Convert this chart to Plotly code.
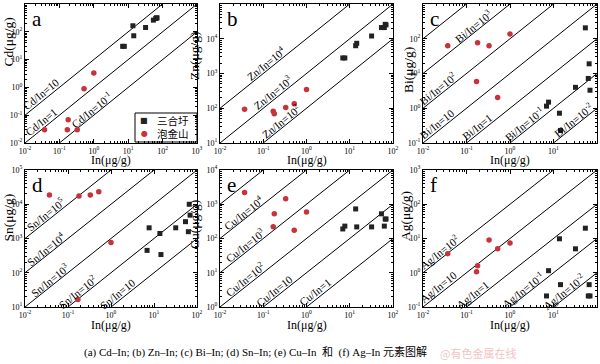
import math
import plotly.graph_objects as go

# ---------------- data ----------------
# In contents (µg/g)
sh_in = [6.9, 7.7, 13.7, 14.5, 32, 54, 63, 66, 69]      # 三合圩
pj_in = [0.037, 0.17, 0.18, 0.33, 0.52, 1.0]            # 泡金山

sh_cd = [30, 30, 165, 72, 143, 263, 300, 317, 317]
pj_cd = [0.03, 0.03, 0.068, 0.03, 0.89, 3.3]

sh_zn = [2800, 2800, 6300, 7400, 12000, 21000, 21000, 26000, 25000]
pj_zn = [93, 82, 70, 105, 135, 345]

sh_bi = [1.15, 1.5, 0.72, 0.23, 4.0, 206, 7.2, 19, 3.3]
pj_bi = [63, 5.9, 77, 63, 2.05, 138]

sh_sn = [450, 2050, 1400, 340, 2050, 3100, 1580, 10000, 4800]
pj_sn = [18600, 16.6, 17400, 18600, 23200, 760]

sh_cu = [190, 230, 730, 218, 218, 525, 230, 370, 370]
pj_cu = [2200, 220, 530, 1450, 173, 590]

sh_ag = [0.21, 1.15, 9.8, 0.45, 5.0, 20, 0.21, 0.45, 0.21]
pj_ag = [3.6, 1.07, 1.6, 9.1, 5.0, 7.4]

series_names = ["三合圩", "泡金山"]
caption = "(a) Cd–In; (b) Zn–In; (c) Bi–In; (d) Sn–In; (e) Cu–In  和  (f) Ag–In 元素图解"

# panels: element, x log range, y log range, ratio-line exponents,
# labelled lines (exponent, label-centre log x)
panels = [
    dict(letter="a", el="Cd", sh=sh_cd, pj=pj_cd, xr=(-2, 3), yr=(-2, 3),
         lines=[1, 0, -1], labels=[(1, -1.42), (0, -1.42), (-1, 0.03)]),
    dict(letter="b", el="Zn", sh=sh_zn, pj=pj_zn, xr=(-2, 2), yr=(1, 5),
         lines=[4, 3, 2], labels=[(4, -0.84), (3, -0.68), (2, -0.5)]),
    dict(letter="c", el="Bi", sh=sh_bi, pj=pj_bi, xr=(-2, 2), yr=(-1, 3),
         lines=[4, 3, 2, 1, 0, -1, -2],
         labels=[(3, -0.76), (2, -1.56), (1, -1.59), (0, -0.67), (-1, 0.41), (-2, 1.54)]),
    dict(letter="d", el="Sn", sh=sh_sn, pj=pj_sn, xr=(-2, 2), yr=(1, 5),
         lines=[5, 4, 3, 2, 1],
         labels=[(5, -1.43), (4, -1.43), (3, -1.34), (2, -0.70), (1, 0.24)]),
    dict(letter="e", el="Cu", sh=sh_cu, pj=pj_cu, xr=(-2, 2), yr=(0, 4),
         lines=[5, 4, 3, 2, 1, 0],
         labels=[(4, -1.38), (3, -1.33), (2, -1.33), (1, -0.66), (0, 0.29)]),
    dict(letter="f", el="Ag", sh=sh_ag, pj=pj_ag, xr=(-2, 2), yr=(-1, 3),
         lines=[2, 1, 0, -1, -2],
         labels=[(2, -1.54), (1, -1.56), (0, -0.78), (-1, 0.37), (-2, 1.31)]),
]

# layout geometry (pixels)
W, H = 600, 364
cols = [(25, 197), (220, 393), (423, 597)]
rows = [(4, 143), (170, 307)]
ytitle_pos = [(7.5, 42), (194, 56), (408, 70), (7.5, 218), (194, 224), (405, 216)]
xtitle_y = [160, 325]

SERIF = "Liberation Serif, Times New Roman, serif"
RED = "#c8323a"
BLACK = "#222222"


def exp_text(e):
    return "10<sup>%d</sup>" % e


def ratio_text(el, e):
    if e == 0:
        return "%s/In=1" % el
    if e == 1:
        return "%s/In=10" % el
    return "%s/In=10<sup>%d</sup>" % (el, e)


def px(x):
    return x / W


def py(y):
    return 1 - y / H


def paper_text(x, y, text, size, family=SERIF, color="black", angle=0,
               xanchor="center", yanchor="middle"):
    return dict(x=px(x), y=py(y), xref="paper", yref="paper", showarrow=False,
                text=text, textangle=angle, xanchor=xanchor, yanchor=yanchor,
                font=dict(family=family, size=size, color=color))


fig = go.Figure()
annotations = []
shapes = []
layout = {}

for i, p in enumerate(panels):
    n = i + 1
    r, c = divmod(i, 3)
    x0p, x1p = cols[c]
    y0p, y1p = rows[r]
    xs = "" if n == 1 else str(n)
    xref, yref = "x" + xs, "y" + xs

    # ratio lines
    lx = [10 ** (p["xr"][0] - 3), 10 ** (p["xr"][1] + 3)]
    for e in p["lines"]:
        fig.add_trace(go.Scatter(x=lx, y=[v * 10 ** e for v in lx], mode="lines",
                                 line=dict(color="black", width=1),
                                 showlegend=False, hoverinfo="skip",
                                 xaxis=xref, yaxis=yref))
    # points
    fig.add_trace(go.Scatter(x=sh_in, y=p["sh"], mode="markers", name=series_names[0],
                             marker=dict(symbol="square", size=5, color=BLACK),
                             showlegend=False, xaxis=xref, yaxis=yref))
    fig.add_trace(go.Scatter(x=pj_in, y=p["pj"], mode="markers", name=series_names[1],
                             marker=dict(symbol="circle", size=5.5, color=RED),
                             showlegend=False, xaxis=xref, yaxis=yref))

    tick_common = dict(type="log", showline=True, linecolor="black", linewidth=1,
                       mirror="ticks", ticks="inside", ticklen=4, tickcolor="black",
                       showgrid=False, zeroline=False, automargin=False,
                       tickfont=dict(family=SERIF, size=8, color="black"),
                       minor=dict(ticks="inside", ticklen=2, tickcolor="black",
                                  dtick="D1", showgrid=False))
    xv = list(range(p["xr"][0], p["xr"][1] + 1))
    yv = list(range(p["yr"][0], p["yr"][1] + 1))
    layout["xaxis" + xs] = dict(tick_common, range=list(p["xr"]),
                                domain=[px(x0p), px(x1p)], anchor=yref,
                                tickmode="array", tickvals=[10 ** v for v in xv],
                                ticktext=[exp_text(v) for v in xv])
    layout["yaxis" + xs] = dict(tick_common, range=list(p["yr"]),
                                domain=[py(y1p), py(y0p)], anchor=xref,
                                tickmode="array", tickvals=[10 ** v for v in yv],
                                ticktext=[exp_text(v) for v in yv])

    # line labels
    pxd = (x1p - x0p) / (p["xr"][1] - p["xr"][0])
    pyd = (y1p - y0p) / (p["yr"][1] - p["yr"][0])
    th = math.atan2(pyd, pxd)
    d = 6.0
    for e, lxc in p["labels"]:
        annotations.append(dict(
            x=lxc, y=lxc + e, xref=xref, yref=yref, showarrow=False,
            xanchor="center", yanchor="middle",
            text=ratio_text(p["el"], e), textangle=-math.degrees(th),
            xshift=-d * math.sin(th), yshift=d * math.cos(th),
            font=dict(family=SERIF, size=11, color="black")))

    # panel letter
    annotations.append(paper_text(x0p + 5, y0p + 1, p["letter"], 21,
                                  xanchor="left", yanchor="top"))
    # axis titles
    annotations.append(paper_text((x0p + x1p) / 2, xtitle_y[r], "In(μg/g)", 12))
    tx, ty = ytitle_pos[i]
    annotations.append(paper_text(tx, ty, "%s(μg/g)" % p["el"], 13.5, angle=-90))

# legend box in panel a (drawn manually)
shapes.append(dict(type="rect", xref="paper", yref="paper",
                   x0=px(135), x1=px(197), y0=py(142), y1=py(113),
                   line=dict(color="black", width=1), fillcolor="white", layer="below"))
for k, (sym, col) in enumerate([("■", BLACK), ("●", RED)]):
    yy = 120.5 + 13 * k
    annotations.append(paper_text(144, yy, sym, 8, family="DejaVu Sans", color=col))
    annotations.append(paper_text(173, yy, series_names[k], 10.5, family="Noto Sans CJK SC"))

annotations.append(paper_text(82, 352, caption, 11,
                              family="Liberation Serif, Noto Sans CJK SC", xanchor="left"))
annotations.append(paper_text(438, 353, "@有色金属在线", 11, family="Noto Sans CJK SC",
                              color="#efc4c4", xanchor="left"))

fig.update_layout(
    width=W, height=H, autosize=False,
    margin=dict(l=0, r=0, t=0, b=0, autoexpand=False),
    paper_bgcolor="white", plot_bgcolor="rgba(0,0,0,0)",
    showlegend=False,
    annotations=annotations, shapes=shapes,
    **layout,
)

fig.write_html("out.html", config={"displayModeBar": False},
               post_script="document.body.style.margin='0';document.body.style.overflow='hidden';")
